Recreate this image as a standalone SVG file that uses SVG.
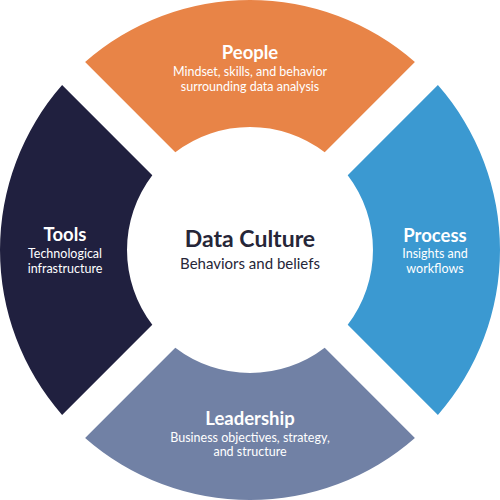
<svg xmlns="http://www.w3.org/2000/svg" width="500" height="500" viewBox="0 0 500 500">
<style>
.t{font-family:Lato,"Open Sans","DejaVu Sans",sans-serif;text-anchor:middle;fill:#ffffff}
.h{font-size:18.5px;font-weight:bold}
.s{font-size:12.5px}
.c{fill:#262638}
</style>
<rect width="500" height="500" fill="#ffffff"/>
<g id="people">
<path d="M85.1,62.1 A250,250 0 0 1 414.9,62.1 L324.7,152.3 A123,123 0 0 0 175.3,152.3 Z" fill="#E88447"/>
<text class="t h" x="250" y="59">People</text>
<text class="t s" x="250" y="76">Mindset, skills, and behavior</text>
<text class="t s" x="250" y="91">surrounding data analysis</text>
</g>
<g id="process">
<path d="M437.9,85.1 A250,250 0 0 1 437.9,414.9 L347.7,324.7 A123,123 0 0 0 347.7,175.3 Z" fill="#3B99D1"/>
<text class="t h" x="435" y="242">Process</text>
<text class="t s" x="435" y="258">Insights and</text>
<text class="t s" x="435" y="273">workflows</text>
</g>
<g id="leadership">
<path d="M414.9,437.9 A250,250 0 0 1 85.1,437.9 L175.3,347.7 A123,123 0 0 0 324.7,347.7 Z" fill="#7181A5"/>
<text class="t h" x="250" y="425">Leadership</text>
<text class="t s" x="250" y="442">Business objectives, strategy,</text>
<text class="t s" x="250" y="456">and structure</text>
</g>
<g id="tools">
<path d="M62.1,414.9 A250,250 0 0 1 62.1,85.1 L152.3,175.3 A123,123 0 0 0 152.3,324.7 Z" fill="#20203F"/>
<text class="t h" x="65" y="241">Tools</text>
<text class="t s" x="65" y="258">Technological</text>
<text class="t s" x="65" y="273">infrastructure</text>
</g>
<g id="center">
<text class="t c" x="250" y="247" style="font-size:23px;font-weight:bold">Data Culture</text>
<text class="t c" x="250" y="269" style="font-size:15px">Behaviors and beliefs</text>
</g>
</svg>
